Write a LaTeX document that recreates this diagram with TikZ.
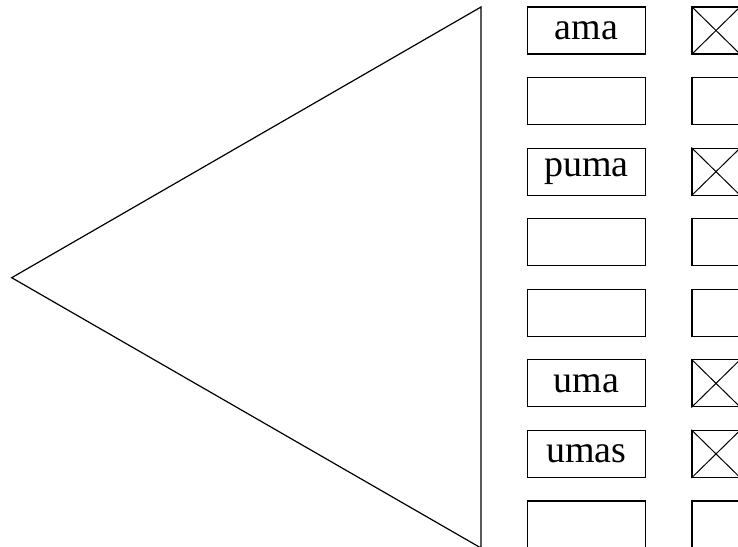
\documentclass[tikz,border=0pt]{standalone}
\usepackage{fontspec}
\setmainfont{Liberation Serif}
\usetikzlibrary{positioning}
\tikzset{
wordbox/.style={rectangle, draw, line width=1.2pt, minimum width=118pt, minimum height=47pt, inner sep=0pt, text centered, font=\fontsize{38}{40}\selectfont},
markbox/.style={rectangle, draw, line width=1.2pt, minimum width=48pt, minimum height=47pt, inner sep=0pt},
xline/.style={draw, line width=1pt}
}

\begin{document}
\begin{tikzpicture}[node distance = 70.57pt]
    \useasboundingbox (0,0) rectangle (738pt,-546pt);
    % Place nodes
    \node [wordbox] (ama) at (586.5pt,-30.5pt) {ama};
    \node [wordbox, below of=ama] (slotb) {};
    \node [wordbox, below of=slotb] (puma) {puma};
    \node [wordbox, below of=puma] (slotd) {};
    \node [wordbox, below of=slotd] (slote) {};
    \node [wordbox, below of=slote] (uma) {uma};
    \node [wordbox, below of=uma] (umas) {umas};
    \node [wordbox, below of=umas] (sloth) {};
    \node [markbox] (markama) at (716pt,-30.5pt) {};
    \node [markbox, below of=markama] (markb) {};
    \node [markbox, below of=markb] (markpuma) {};
    \node [markbox, below of=markpuma] (markd) {};
    \node [markbox, below of=markd] (marke) {};
    \node [markbox, below of=marke] (markuma) {};
    \node [markbox, below of=markuma] (markumas) {};
    \node [markbox, below of=markumas] (markh) {};
    % Triangle
    \coordinate (tip) at (11.7pt,-277.7pt);
    \coordinate (top) at (481pt,-7pt);
    \coordinate (bottom) at (481pt,-548pt);
    \draw [line width=1.2pt] (tip) -- (top) -- (bottom) -- cycle;
    % Draw crosses
    \path [xline] (markama.north west) -- (markama.south east);
    \path [xline] (markama.south west) -- (markama.north east);
    \path [xline] (markpuma.north west) -- (markpuma.south east);
    \path [xline] (markpuma.south west) -- (markpuma.north east);
    \path [xline] (markuma.north west) -- (markuma.south east);
    \path [xline] (markuma.south west) -- (markuma.north east);
    \path [xline] (markumas.north west) -- (markumas.south east);
    \path [xline] (markumas.south west) -- (markumas.north east);
\end{tikzpicture}
\end{document}
